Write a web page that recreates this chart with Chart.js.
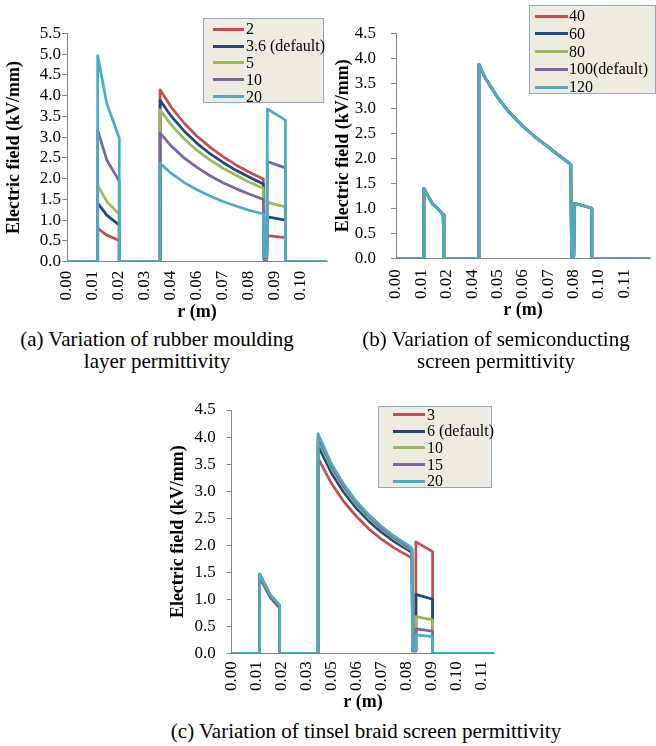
<!DOCTYPE html>
<html>
<head>
<meta charset="utf-8">
<script src="https://cdn.jsdelivr.net/npm/chart.js@4.4.1/dist/chart.umd.min.js"></script>
<style>
  body { margin: 0; background: #fff; width: 656px; height: 746px; position: relative; overflow: hidden;
         font-family: "Liberation Serif", "Times New Roman", serif; color: #000; }
  canvas { position: absolute; }
  .legend { position: absolute; background: #EEECE1; border: 1px solid #8EA9C8; box-sizing: border-box; }
  .row { position: absolute; height: 18px; line-height: 18px; font-size: 16px; white-space: nowrap; }
  .row i { position: absolute; height: 3px; top: 7.5px; }
  .caption { position: absolute; text-align: center; font-size: 21px; line-height: 22px; }
</style>
</head>
<body>
<canvas id="chartA" width="332" height="327" style="left:0;top:0"></canvas>
<canvas id="chartB" width="330" height="327" style="left:326px;top:0"></canvas>
<canvas id="chartC" width="350" height="337" style="left:160px;top:380px"></canvas>

<div class="caption" style="left:0;top:328px;width:314px">(a) Variation of rubber moulding<br>layer permittivity</div>
<div class="caption" style="left:336px;top:328px;width:320px">(b) Variation of semiconducting<br>screen permittivity</div>
<div class="caption" style="left:66px;top:720px;width:600px">(c) Variation of tinsel braid screen permittivity</div>

<script>
const seriesColors = ['#C0504D', '#1F497D', '#9BBB59', '#8064A2', '#4BACC6'];

// (a) rubber moulding layer permittivity
const namesA = ['2', '3.6 (default)', '5', '10', '20'];
const ticksA = ['0.00', '0.01', '0.02', '0.03', '0.04', '0.06', '0.07', '0.08', '0.09', '0.10'];
// x = position along the category axis (1 unit = one labelled tick)
const posA = [0, 1.18, 1.18, 1.53, 2.01, 2.01, 3.58, 3.58, 4.0, 4.5, 5.0, 5.5, 6.0, 6.5, 7.0, 7.55, 7.58, 7.68, 7.71, 8.40, 8.40, 10];
const fieldA2   = [0, 0, 0.80, 0.64, 0.51, 0, 0, 4.14, 3.73, 3.34, 3.02, 2.76, 2.53, 2.33, 2.16, 1.99, 0.05, 0.05, 0.63, 0.58, 0, 0];
const fieldA3_6 = [0, 0, 1.41, 1.12, 0.88, 0, 0, 3.89, 3.51, 3.15, 2.85, 2.60, 2.39, 2.20, 2.04, 1.87, 0.06, 0.06, 1.08, 1.00, 0, 0];
const fieldA5   = [0, 0, 1.84, 1.45, 1.14, 0, 0, 3.66, 3.30, 2.96, 2.68, 2.45, 2.25, 2.08, 1.92, 1.77, 0.07, 0.07, 1.43, 1.32, 0, 0];
const fieldA10  = [0, 0, 3.17, 2.45, 1.94, 0, 0, 3.10, 2.79, 2.50, 2.27, 2.07, 1.90, 1.76, 1.63, 1.50, 0.09, 0.09, 2.41, 2.26, 0, 0];
const fieldA20  = [0, 0, 4.96, 3.81, 2.98, 0, 0, 2.37, 2.13, 1.91, 1.73, 1.58, 1.45, 1.34, 1.24, 1.15, 0.12, 0.12, 3.68, 3.41, 0, 0];

// (b) semiconducting screen permittivity - all five curves lie on top of each other
const namesB = ['40', '60', '80', '100(default)', '120'];
const ticksB = ['0.00', '0.01', '0.02', '0.04', '0.05', '0.06', '0.07', '0.08', '0.10', '0.11'];
const posB = [0, 1.10, 1.10, 1.45, 1.68, 1.86, 1.89, 1.89, 3.27, 3.27, 3.5, 4.0, 4.5, 5.0, 5.5, 6.0, 6.5, 6.89, 6.92, 7.01, 7.04, 7.72, 7.72, 10.02];
const fieldB = [0, 0, 1.40, 1.08, 0.98, 0.87, 0.86, 0, 0, 3.88, 3.62, 3.22, 2.90, 2.64, 2.42, 2.23, 2.03, 1.88, 0.04, 0.04, 1.10, 1.00, 0, 0];

// (c) tinsel braid screen permittivity
const namesC = ['3', '6 (default)', '10', '15', '20'];
const ticksC = ['0.00', '0.01', '0.02', '0.03', '0.05', '0.06', '0.07', '0.08', '0.09', '0.10', '0.11'];
const posC = [0, 1.12, 1.12, 1.55, 1.92, 1.92, 3.46, 3.46, 4.0, 4.5, 5.0, 5.5, 6.0, 6.5, 7.0, 7.22, 7.25, 7.35, 7.38, 8.05, 8.05, 10.52];
const fieldC3  = [0, 0, 1.40, 1.03, 0.83, 0, 0, 3.61, 3.14, 2.80, 2.53, 2.30, 2.11, 1.95, 1.82, 1.76, 0.04, 0.04, 2.06, 1.88, 0, 0];
const fieldC6  = [0, 0, 1.44, 1.06, 0.87, 0, 0, 3.84, 3.33, 2.97, 2.68, 2.44, 2.24, 2.07, 1.93, 1.86, 0.05, 0.05, 1.09, 1.00, 0, 0];
const fieldC10 = [0, 0, 1.45, 1.07, 0.88, 0, 0, 3.95, 3.42, 3.05, 2.75, 2.50, 2.30, 2.12, 1.97, 1.91, 0.05, 0.05, 0.68, 0.62, 0, 0];
const fieldC15 = [0, 0, 1.46, 1.07, 0.88, 0, 0, 4.00, 3.46, 3.08, 2.78, 2.53, 2.32, 2.14, 1.99, 1.93, 0.05, 0.05, 0.45, 0.41, 0, 0];
const fieldC20 = [0, 0, 1.47, 1.08, 0.89, 0, 0, 4.06, 3.50, 3.12, 2.81, 2.56, 2.35, 2.17, 2.02, 1.95, 0.06, 0.06, 0.34, 0.31, 0, 0];

const tickFont = { family: 'Liberation Serif', size: 17 };
const titleFont = { family: 'Liberation Serif', size: 18, weight: 'bold' };
const axisGrey = '#868686';

function makeChart(id, xs, series, names, ticks, o) {
  const datasets = series.map((ys, i) => ({
    label: names[i],
    data: xs.map((x, j) => ({ x: x, y: ys[j] })),
    borderColor: seriesColors[i],
    backgroundColor: seriesColors[i],
    borderWidth: 2.75,
    pointRadius: 0,
    tension: 0,
    borderJoinStyle: 'round',
    // last series drawn on top, like the spreadsheet
    order: series.length - i
  }));

  new Chart(document.getElementById(id), {
    type: 'line',
    data: { datasets: datasets },
    options: {
      responsive: false,
      animation: false,
      devicePixelRatio: 1,
      layout: { padding: { top: o.top, right: o.right, left: 0, bottom: 0 } },
      plugins: { legend: { display: false }, tooltip: { enabled: false } },
      scales: {
        x: {
          type: 'linear',
          min: 0,
          max: o.xMax,
          afterBuildTicks: s => { s.ticks = ticks.map((t, i) => ({ value: i })); },
          afterFit: s => { s.height = o.xH; },
          ticks: {
            autoSkip: false, minRotation: 90, maxRotation: 90,
            padding: o.xPad, color: '#000', font: tickFont,
            callback: (v, i) => ticks[i]
          },
          grid: { drawOnChartArea: false, drawTicks: false },
          border: { color: axisGrey, width: 1 },
          title: { display: true, text: 'r (m)', color: '#000', font: titleFont, padding: { top: 0, bottom: o.xTitlePad } }
        },
        y: {
          type: 'linear',
          min: 0,
          max: o.yMax,
          afterFit: s => { s.width = o.yW; },
          ticks: {
            stepSize: 0.5, autoSkip: false, padding: o.yPad, color: '#000', font: tickFont,
            callback: v => v.toFixed(1)
          },
          grid: { drawOnChartArea: false, drawTicks: true, tickLength: 5, color: axisGrey },
          border: { color: axisGrey, width: 1 },
          title: { display: true, text: 'Electric field (kV/mm)', color: '#000', font: titleFont, padding: { top: o.yTitlePad, bottom: 0 } }
        }
      }
    }
  });
}

function makeLegend(names, box) {
  const el = document.createElement('div');
  el.className = 'legend';
  el.style.left = box.left + 'px';
  el.style.top = box.top + 'px';
  el.style.width = box.width + 'px';
  el.style.height = box.height + 'px';
  names.forEach((name, i) => {
    const row = document.createElement('div');
    row.className = 'row';
    row.style.top = (box.first + i * box.step - 9) + 'px';
    row.style.left = '0px';
    const line = document.createElement('i');
    line.style.left = box.lineX + 'px';
    line.style.width = box.lineW + 'px';
    line.style.background = seriesColors[i];
    const txt = document.createElement('span');
    txt.style.position = 'absolute';
    txt.style.left = box.textX + 'px';
    txt.textContent = name;
    row.appendChild(line);
    row.appendChild(txt);
    el.appendChild(row);
  });
  document.body.appendChild(el);
}

makeChart('chartA', posA, [fieldA2, fieldA3_6, fieldA5, fieldA10, fieldA20], namesA, ticksA,
  { top: 33.3, right: 5, xH: 65.3, yW: 67, xMax: 10, yMax: 5.5, xPad: 9, yPad: 1, xTitlePad: 4, yTitlePad: 4 });
makeChart('chartB', posB, [fieldB, fieldB, fieldB, fieldB, fieldB], namesB, ticksB,
  { top: 33.3, right: 3, xH: 68.7, yW: 70, xMax: 10.02, yMax: 4.5, xPad: 11, yPad: 15, xTitlePad: 6, yTitlePad: 6.7 });
makeChart('chartC', posC, [fieldC3, fieldC6, fieldC10, fieldC15, fieldC20], namesC, ticksC,
  { top: 30, right: 6.7, xH: 63.7, yW: 71.7, xMax: 10.52, yMax: 4.5, xPad: 8, yPad: 11, xTitlePad: 4, yTitlePad: 7.2 });

makeLegend(namesA, { left: 203, top: 18, width: 121, height: 85, first: 10.3, step: 16.8, lineX: 9, lineW: 31, textX: 42 });
makeLegend(namesB, { left: 529, top: 5, width: 127, height: 89, first: 10, step: 17.75, lineX: 5, lineW: 33, textX: 39 });
makeLegend(namesC, { left: 378, top: 406, width: 114, height: 82, first: 7.5, step: 16.7, lineX: 14, lineW: 32, textX: 48 });
</script>
</body>
</html>
